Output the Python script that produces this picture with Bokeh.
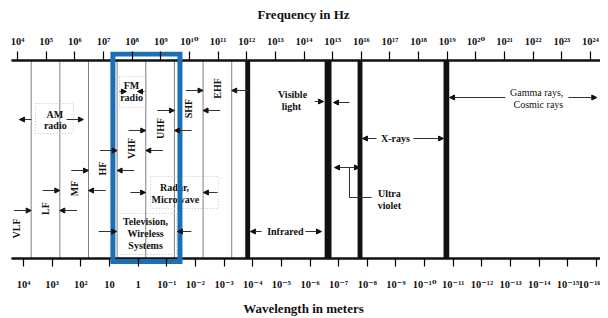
import numpy as np
from bokeh.plotting import figure
from bokeh.models import Range1d, LinearAxis, FixedTicker, Arrow, NormalHead, ColumnDataSource
from bokeh.core.properties import value
from bokeh.embed import file_html
from bokeh.resources import INLINE

SUP = str.maketrans("-0123456789", "⁻⁰¹²³⁴⁵⁶⁷⁸⁹")
FONT_NAME = "Liberation Serif, DejaVu Serif"
FONT = value(FONT_NAME)

# ---------------- data ----------------
# top axis: frequency exponents (Hz)
freq_exp = list(range(4, 25))
freq_labels = ["10" + str(e).translate(SUP) for e in freq_exp]

# bottom axis: wavelength exponents (m); drawn offset on the log10(Hz) scale as in the figure
wave_exp = list(range(4, -17, -1))
wave_labels = ["1" if e == 0 else "10" if e == 1 else "10" + str(e).translate(SUP) for e in wave_exp]
wave_tick_x = [4.21 + (4 - e) for e in wave_exp]

# radio bands (Hz)
band_names = ["VLF", "LF", "MF", "HF", "VHF", "UHF", "SHF", "EHF"]
band_lo_hz = [3e3, 3e4, 3e5, 3e6, 3e7, 3e8, 3e9, 3e10]
band_hi_hz = [3e4, 3e5, 3e6, 3e7, 3e8, 3e9, 3e10, 3e11]
band_row_y = [230, 210, 190, 170, 150, 130, 110, 90]

# thick region boundaries (log10 Hz)
region_bar_lo = [11.95, 14.72, 15.87, 18.87]
region_bar_hi = [12.12, 14.96, 16.04, 19.07]

# highlighted region (log10 Hz)
highlight_lo, highlight_hi = 7.33, 9.67

# region labels (log10 Hz, row)
label_text = ["AM", "radio", "FM", "radio", "Radar,", "Microwave",
              "Television,", "Wireless", "Systems", "Visible", "light",
              "Infrared", "X-rays", "Ultra", "violet"]
label_x = [5.30, 5.32, 7.98, 7.98, 9.48, 9.51,
           8.47, 8.47, 8.47, 13.60, 13.56,
           13.35, 17.19, 16.98, 16.98]
label_y = [116, 127, 87, 99, 189, 201,
           223, 235, 247, 96, 108,
           233, 140, 195, 207]

gamma_text = ["Gamma rays,", "Cosmic rays"]
gamma_x = [22.12, 22.18]
gamma_y = [94, 106]

# region arrows: start -> end (log10 Hz), row
arr_x0 = [4.49, 5.71, 7.56, 8.43, 7.94, 10.98, 6.83, 10.07,
          14.37, 15.59, 12.52, 14.05, 16.53, 17.82, 21.03, 23.23]
arr_x1 = [4.07, 6.30, 7.80, 8.19, 8.47, 10.49, 7.46, 9.58,
          14.68, 15.03, 12.13, 14.61, 16.04, 18.87, 19.08, 24.22]
arr_y = [121, 121, 93, 93, 194, 194, 233, 233,
         103, 104, 233, 233, 140, 140, 99, 99]

# dashed label boxes (log10 Hz, rows)
box_l = [4.63, 7.56, 8.64, 7.46]
box_r = [5.95, 8.50, 11.02, 9.55]
box_t = [105, 78, 178, 215]
box_b = [135, 109, 210, 256]

# ---------------- figure ----------------
X0, X1 = 3.616, 24.349
TOP, BOT = 62, 260
p = figure(width=600, height=318, x_range=Range1d(X0, X1), y_range=Range1d(268, 53),
           output_backend="svg", toolbar_location=None,
           x_axis_location=None, y_axis_location=None,
           min_border_left=6, min_border_right=0, min_border_top=51, min_border_bottom=52)
p.grid.visible = False
p.outline_line_color = None
p.background_fill_color = "white"
p.border_fill_color = "white"

def style_axis(ax, tick_in, standoff, lab_standoff):
    ax.axis_line_color = None
    ax.major_tick_in = tick_in
    ax.major_tick_out = 0
    ax.major_tick_line_color = "black"
    ax.major_tick_line_width = 1.2
    ax.minor_tick_line_color = None
    ax.major_label_standoff = standoff
    ax.major_label_text_font = FONT_NAME
    ax.major_label_text_font_size = "10.5px"
    ax.major_label_text_font_style = "bold"
    ax.major_label_text_color = "#111111"
    ax.axis_label_text_font = FONT_NAME
    ax.axis_label_text_font_size = "13px"
    ax.axis_label_text_font_style = "bold"
    ax.axis_label_text_color = "#111111"
    ax.axis_label_standoff = lab_standoff

top_ax = LinearAxis(ticker=FixedTicker(ticks=freq_exp),
                    major_label_overrides={e: l for e, l in zip(freq_exp, freq_labels)},
                    axis_label="Frequency in Hz")
style_axis(top_ax, 9, 5, 11)
p.add_layout(top_ax, "above")

bot_ax = LinearAxis(ticker=FixedTicker(ticks=wave_tick_x),
                    major_label_overrides={x: l for x, l in zip(wave_tick_x, wave_labels)},
                    axis_label="Wavelength in meters")
style_axis(bot_ax, 8, 12, 8)
p.add_layout(bot_ax, "below")

# thin band-edge lines
edges = [np.log10(v) for v in band_hi_hz]
p.segment(x0=edges, y0=[TOP] * len(edges), x1=edges, y1=[BOT] * len(edges),
          line_color="#808080", line_width=1)

# dashed label boxes
p.quad(left=box_l, right=box_r, top=box_t, bottom=box_b, fill_color=None,
       line_color="#c4c4c4", line_width=1, line_dash="1 2")

# thick region bars
p.quad(left=region_bar_lo, right=region_bar_hi, top=[TOP] * 4, bottom=[BOT] * 4,
       fill_color="#111111", line_color=None)

# axis lines
p.segment(x0=[3.79, 3.79], y0=[TOP, BOT], x1=[X1, X1], y1=[TOP, BOT],
          line_color="#111111", line_width=2.5)

# band labels (rotated)
band_c = [(np.log10(a) + np.log10(b)) / 2 for a, b in zip(band_lo_hz, band_hi_hz)]
p.text(x=band_c, y=band_row_y, text=band_names, angle=np.pi / 2,
       text_align="center", text_baseline="middle", text_font=FONT,
       text_font_size="10px", text_font_style="bold", text_color="#111111")

# band arrows (pointing inward to the band edges)
bx0, bx1, by = [], [], []
for lo, hi, y in zip(band_lo_hz[1:], band_hi_hz[1:], band_row_y[1:]):
    l, h = np.log10(lo), np.log10(hi)
    bx0 += [l - 0.6, h + 0.6]
    bx1 += [l, h]
    by += [y + 2, y + 2]
band_src = ColumnDataSource(dict(x0=bx0, x1=bx1, y=by))
p.add_layout(Arrow(end=NormalHead(size=5, fill_color="#111111", line_color="#111111"),
                   source=band_src, x_start="x0", y_start="y", x_end="x1", y_end="y",
                   line_color="#333333", line_width=1))

# region arrows
reg_src = ColumnDataSource(dict(x0=arr_x0, x1=arr_x1, y=arr_y))
p.add_layout(Arrow(end=NormalHead(size=5, fill_color="#111111", line_color="#111111"),
                   source=reg_src, x_start="x0", y_start="y", x_end="x1", y_end="y",
                   line_color="#333333", line_width=1))

# ultraviolet double arrow and leader
p.add_layout(Arrow(start=NormalHead(size=5, fill_color="#111111", line_color="#111111"),
                   end=NormalHead(size=5, fill_color="#111111", line_color="#111111"),
                   x_start=15.065, y_start=169, x_end=15.937, y_end=169,
                   line_color="#333333", line_width=1))
p.line(x=[15.588, 15.588, 16.356], y=[169, 199, 199], line_color="#333333", line_width=1)

# region labels
p.text(x=label_x, y=label_y, text=label_text, text_align="center", text_baseline="middle",
       text_font=FONT, text_font_size="10px", text_font_style="bold", text_color="#111111")
p.text(x=gamma_x, y=gamma_y, text=gamma_text, text_align="center", text_baseline="middle",
       text_font=FONT, text_font_size="10px", text_color="#111111")

# highlight box
p.quad(left=[highlight_lo], right=[highlight_hi], top=[55.5], bottom=[263],
       fill_color=None, line_color="#1a6fb5", line_width=5, line_join="miter")

open("out.html", "w").write(file_html(p, INLINE))
